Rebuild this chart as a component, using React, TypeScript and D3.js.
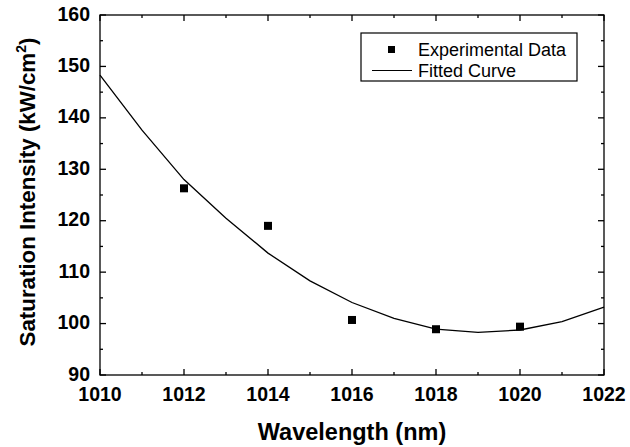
import React, { useEffect, useRef } from 'react';
import * as d3 from 'd3';

// measured points
const expWavelength = [1012, 1014, 1016, 1018, 1020];
const expIntensity = [126.3, 119.0, 100.7, 98.9, 99.4];

// fitted curve, sampled each nm
const fitWavelength = [1010, 1011, 1012, 1013, 1014, 1015, 1016, 1017, 1018, 1019, 1020, 1021, 1022];
const fitIntensity = [148.3, 137.6, 128.0, 120.5, 113.7, 108.3, 104.1, 101.0, 98.9, 98.3, 98.75, 100.4, 103.2];

const xTicks = [1010, 1012, 1014, 1016, 1018, 1020, 1022];
const xMinor = [1011, 1013, 1015, 1017, 1019, 1021];
const yTicks = [90, 100, 110, 120, 130, 140, 150, 160];
const yMinor = [95, 105, 115, 125, 135, 145, 155];

const App = () => {
  const svgRef = useRef<SVGSVGElement>(null);

  useEffect(() => {
    const width = 630, height = 447;
    const margin = { top: 15, right: 26, bottom: 72, left: 100 };
    const font = 'Liberation Sans, Arial, sans-serif';

    const svg = d3.select(svgRef.current);
    svg.selectAll('*').remove();
    svg.attr('width', width).attr('height', height);

    const x = d3.scaleLinear().domain([1010, 1022]).range([margin.left, width - margin.right]);
    const y = d3.scaleLinear().domain([90, 160]).range([height - margin.bottom, margin.top]);
    const [x0, x1] = x.range();
    const [y0, y1] = y.range();

    const g = svg.append('g').attr('stroke', '#000').attr('stroke-width', 1.3);

    // frame
    g.append('rect')
      .attr('x', x0).attr('y', y1)
      .attr('width', x1 - x0).attr('height', y0 - y1)
      .attr('fill', 'none');

    const tick = (vals: number[], len: number) => {
      vals.forEach(v => {
        g.append('line').attr('x1', x(v)).attr('x2', x(v)).attr('y1', y0).attr('y2', y0 - len);
        g.append('line').attr('x1', x(v)).attr('x2', x(v)).attr('y1', y1).attr('y2', y1 + len);
      });
    };
    const ytick = (vals: number[], len: number) => {
      vals.forEach(v => {
        g.append('line').attr('y1', y(v)).attr('y2', y(v)).attr('x1', x0).attr('x2', x0 + len);
        g.append('line').attr('y1', y(v)).attr('y2', y(v)).attr('x1', x1).attr('x2', x1 - len);
      });
    };
    tick(xTicks, 6); tick(xMinor, 3);
    ytick(yTicks, 6); ytick(yMinor, 3);

    svg.append('g')
      .selectAll('text')
      .data(xTicks)
      .join('text')
      .attr('x', d => x(d))
      .attr('y', y0 + 26)
      .attr('text-anchor', 'middle')
      .attr('font-family', font).attr('font-weight', 'bold').attr('font-size', 19.5)
      .text(d => d);

    svg.append('g')
      .selectAll('text')
      .data(yTicks)
      .join('text')
      .attr('x', x0 - 10)
      .attr('y', d => y(d) + 5.5)
      .attr('text-anchor', 'end')
      .attr('font-family', font).attr('font-weight', 'bold').attr('font-size', 19.5)
      .text(d => d);

    svg.append('text')
      .attr('x', (x0 + x1) / 2).attr('y', 440)
      .attr('text-anchor', 'middle')
      .attr('font-family', font).attr('font-weight', 'bold').attr('font-size', 23.5)
      .text('Wavelength (nm)');

    const yt = svg.append('text')
      .attr('transform', `translate(35,192) rotate(-90)`)
      .attr('text-anchor', 'middle')
      .attr('font-family', font).attr('font-weight', 'bold').attr('font-size', 22.3);
    yt.append('tspan').text('Saturation Intensity (kW/cm');
    yt.append('tspan').attr('dy', -9).attr('font-size', 14).text('2');
    yt.append('tspan').attr('dy', 9).text(')');

    const fit = fitWavelength.map((w, i) => [w, fitIntensity[i]] as [number, number]);
    svg.append('path')
      .datum(fit)
      .attr('fill', 'none')
      .attr('stroke', '#000')
      .attr('stroke-width', 1.3)
      .attr('d', d3.line<[number, number]>().x(d => x(d[0])).y(d => y(d[1])));

    svg.append('g')
      .selectAll('rect')
      .data(expWavelength)
      .join('rect')
      .attr('x', (d) => x(d) - 4)
      .attr('y', (d, i) => y(expIntensity[i]) - 4)
      .attr('width', 8).attr('height', 8)
      .attr('fill', '#000');

    // legend
    const lg = svg.append('g');
    lg.append('rect')
      .attr('x', 361).attr('y', 33).attr('width', 216).attr('height', 48)
      .attr('fill', '#fff').attr('stroke', '#000').attr('stroke-width', 1.2);
    lg.append('rect').attr('x', 388).attr('y', 46).attr('width', 7).attr('height', 7).attr('fill', '#000');
    lg.append('line').attr('x1', 372).attr('x2', 412).attr('y1', 70.5).attr('y2', 70.5)
      .attr('stroke', '#000').attr('stroke-width', 1.2);
    lg.append('text').attr('x', 418).attr('y', 55.5)
      .attr('font-family', font).attr('font-size', 18).text('Experimental Data');
    lg.append('text').attr('x', 418).attr('y', 76.5)
      .attr('font-family', font).attr('font-size', 18).text('Fitted Curve');
  }, []);

  return <svg ref={svgRef} style={{ position: 'absolute', left: 0, top: 0 }}></svg>;
};

export default App;
